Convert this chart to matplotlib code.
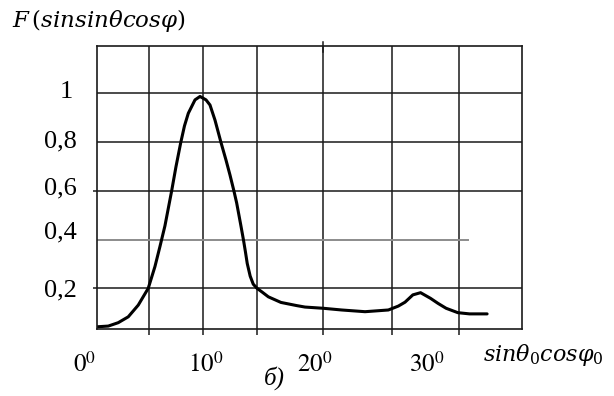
import matplotlib
matplotlib.use("Agg")
import matplotlib.pyplot as plt

plt.rcParams['font.family'] = ['Liberation Serif', 'DejaVu Serif']
plt.rcParams['mathtext.fontset'] = 'stix'

# curve (x in degrees, y = F)
x_deg = [0.77, 1.79, 2.67, 3.55, 4.43, 5.31, 5.90, 6.34, 6.78, 7.37, 7.75, 8.17,
         8.50, 8.84, 9.43, 9.87, 10.40, 10.75, 11.19, 11.72, 12.16, 12.51, 12.86,
         13.10, 13.46, 13.70, 13.87, 14.03, 14.29, 14.56, 14.89, 15.33, 15.89,
         17.00, 18.39, 19.12, 20.73, 22.35, 24.41, 26.46, 27.34, 27.93, 28.62,
         29.30, 30.17, 30.84, 31.55, 32.58, 33.61, 35.16]
F = [0.042, 0.045, 0.059, 0.083, 0.131, 0.200, 0.289, 0.371, 0.456, 0.599, 0.698, 0.797,
     0.866, 0.918, 0.973, 0.987, 0.973, 0.952, 0.890, 0.798, 0.726, 0.665, 0.599,
     0.550, 0.460, 0.398, 0.350, 0.302, 0.250, 0.217, 0.200, 0.185, 0.165,
     0.142, 0.129, 0.123, 0.118, 0.111, 0.104, 0.111, 0.127, 0.143, 0.173,
     0.182, 0.159, 0.138, 0.118, 0.100, 0.095, 0.095]

grid_x = [5.37, 10.11, 14.89, 20.73, 26.76, 32.65]
grid_y = [0.2, 0.6, 0.8, 1.0]
gray_y = 0.4
gray_end = 33.44

y_ticks = [1.0, 0.8, 0.6, 0.4, 0.2]
y_labels = ['1', '0,8', '0,6', '0,4', '0,2']
x_labels = ['$0^0$', '$10^0$', '$20^0$', '$30^0$']

fig = plt.figure(figsize=(6.14, 3.96), dpi=100)
ax = fig.add_axes([96.7 / 614, 67 / 396, 425.7 / 614, 283 / 396])
ax.set_xlim(0.77, 38.27)
ax.set_ylim(0.033, 1.194)

line_c = '#1a1a1a'
for gx in grid_x:
    ax.axvline(gx, color=line_c, lw=1.1)
ax.axvline(grid_x[3], ymin=0.98, ymax=1.015, color=line_c, lw=1.1, clip_on=False)
for gy in grid_y:
    ax.axhline(gy, color=line_c, lw=1.1)
ax.plot([0.77, gray_end], [gray_y, gray_y], color='#8c8c8c', lw=1.4)

ax.plot(x_deg, F, color='black', lw=2.2, solid_capstyle='round', solid_joinstyle='round')

for s in ax.spines.values():
    s.set_linewidth(1.2)
    s.set_color(line_c)
ax.set_xticks(grid_x)
ax.set_xticklabels([])
ax.tick_params(axis='x', direction='out', length=4, width=1.1, color=line_c)
ax.set_yticks([0.2, 0.6])
ax.set_yticklabels([])
ax.tick_params(axis='y', direction='out', length=3, width=1.1, color=line_c)

ytr = ax.get_yaxis_transform()
y_nudge = [0.005, 0.004, 0.008, 0.029, -0.007]
for v, lab, dy in zip(y_ticks, y_labels, y_nudge):
    xo = (66 - 96.7) / 425.7 if lab == '1' else (60.5 - 96.7) / 425.7
    ax.text(xo, v + dy, lab, transform=ytr, ha='center', va='center', fontsize=19)

x_pos = [85, 206, 315, 427]
for px, lab in zip(x_pos, x_labels):
    fig.text(px / 614, 1 - 364 / 396, lab, ha='center', va='center', fontsize=18)

fig.text(274 / 614, 1 - 378 / 396, 'б)', ha='center', va='center', fontsize=18, style='italic')
fig.text(543.5 / 614, 1 - 355 / 396, r'$sin\theta_0 cos\varphi_0$', ha='center', va='center',
         fontsize=16, math_fontfamily='dejavuserif')
fig.text(12 / 614, 1 - 21 / 396, r'$F\,(sinsin\theta cos\varphi)$', ha='left', va='center',
         fontsize=16.5, math_fontfamily='dejavuserif')

fig.savefig('out.png', dpi=100)
